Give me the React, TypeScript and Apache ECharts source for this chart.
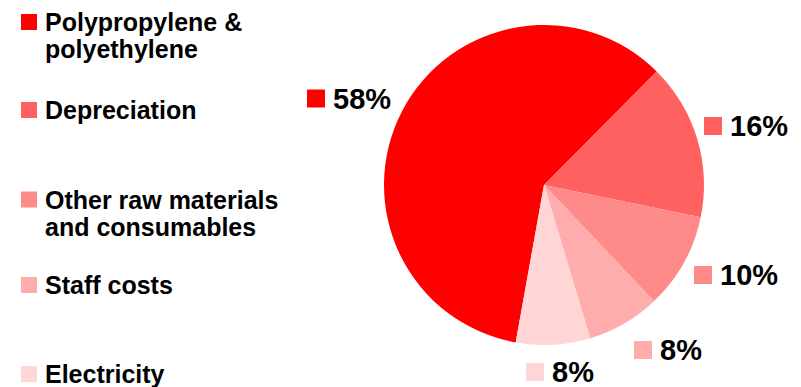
import React, { useEffect, useRef } from "react";
import * as echarts from "echarts";

// Slice names (legend order), slice sizes as drawn, and their printed labels
const categories = [
  "Polypropylene & polyethylene",
  "Depreciation",
  "Other raw materials and consumables",
  "Staff costs",
  "Electricity",
];
const legendText = [
  "Polypropylene &\npolyethylene",
  "Depreciation",
  "Other raw materials\nand consumables",
  "Staff costs",
  "Electricity",
];
const shares = [59.6, 15.8, 9.7, 7.4, 7.5];
const labels = ["58%", "16%", "10%", "8%", "8%"];
const colors = ["#FF0000", "#FF6161", "#FF8A8A", "#FFACAC", "#FFD5D5"];

const FONT = "'Liberation Sans', Arial, Helvetica, sans-serif";

export default function App() {
  const ref = useRef<HTMLDivElement>(null);

  useEffect(() => {
    if (!ref.current) return;
    const chart = echarts.init(ref.current, undefined, { renderer: "svg" });

    // icon centres of the legend squares
    const legendCentres = [22, 110, 199.5, 285, 374];
    const LINE = 27;
    const labelPos: [number, number][] = [
      [307, 98.5],
      [704, 126],
      [694, 275],
      [634, 350],
      [526, 372],
    ];

    const rich: Record<string, any> = {
      v: {
        fontSize: 29,
        fontWeight: "bold",
        fontFamily: FONT,
        color: "#000",
        padding: [0, 0, 0, 8],
      },
    };
    colors.forEach((c, i) => {
      rich["s" + i] = { width: 18, height: 18, backgroundColor: c };
    });

    const legends = categories.map((name, i) => {
      const twoLine = legendText[i].includes("\n");
      return {
        show: true,
        left: 21,
        top: legendCentres[i] - LINE / 2,
        padding: 0,
        orient: "vertical",
        // for two-line entries the square sits at the top of a taller icon box,
        // so it lines up with the first line of text
        icon: twoLine ? `path://M0,0H16V16H0Z M0,${16 + LINE}` : "rect",
        itemWidth: 16,
        itemHeight: twoLine ? 16 + LINE : 16,
        selectedMode: false,
        data: [name],
        formatter: () => legendText[i],
        textStyle: {
          fontSize: 25,
          fontWeight: "bold",
          fontFamily: FONT,
          color: "#000",
          lineHeight: LINE,
          padding: [0, 0, 0, 3],
        },
      };
    });

    chart.setOption({
      animation: false,
      backgroundColor: "#fff",
      legend: legends,
      series: [
        {
          type: "pie",
          center: [544, 185],
          radius: 160,
          startAngle: 259.8,
          clockwise: true,
          avoidLabelOverlap: false,
          itemStyle: { borderWidth: 0 },
          emphasis: { disabled: true },
          labelLine: { show: false },
          label: {
            show: true,
            position: "outside",
            formatter: (p: any) => `{s${p.dataIndex}|}{v|${labels[p.dataIndex]}}`,
            rich,
          },
          labelLayout: (p: any) => ({
            x: labelPos[p.dataIndex][0],
            y: labelPos[p.dataIndex][1],
            align: "left",
            verticalAlign: "middle",
          }),
          data: categories.map((name, i) => ({
            name,
            value: shares[i],
            itemStyle: { color: colors[i] },
          })),
        },
      ],
    });

    return () => chart.dispose();
  }, []);

  return (
    <div
      ref={ref}
      style={{ position: "fixed", left: 0, top: 0, width: 801, height: 387 }}
    />
  );
}
